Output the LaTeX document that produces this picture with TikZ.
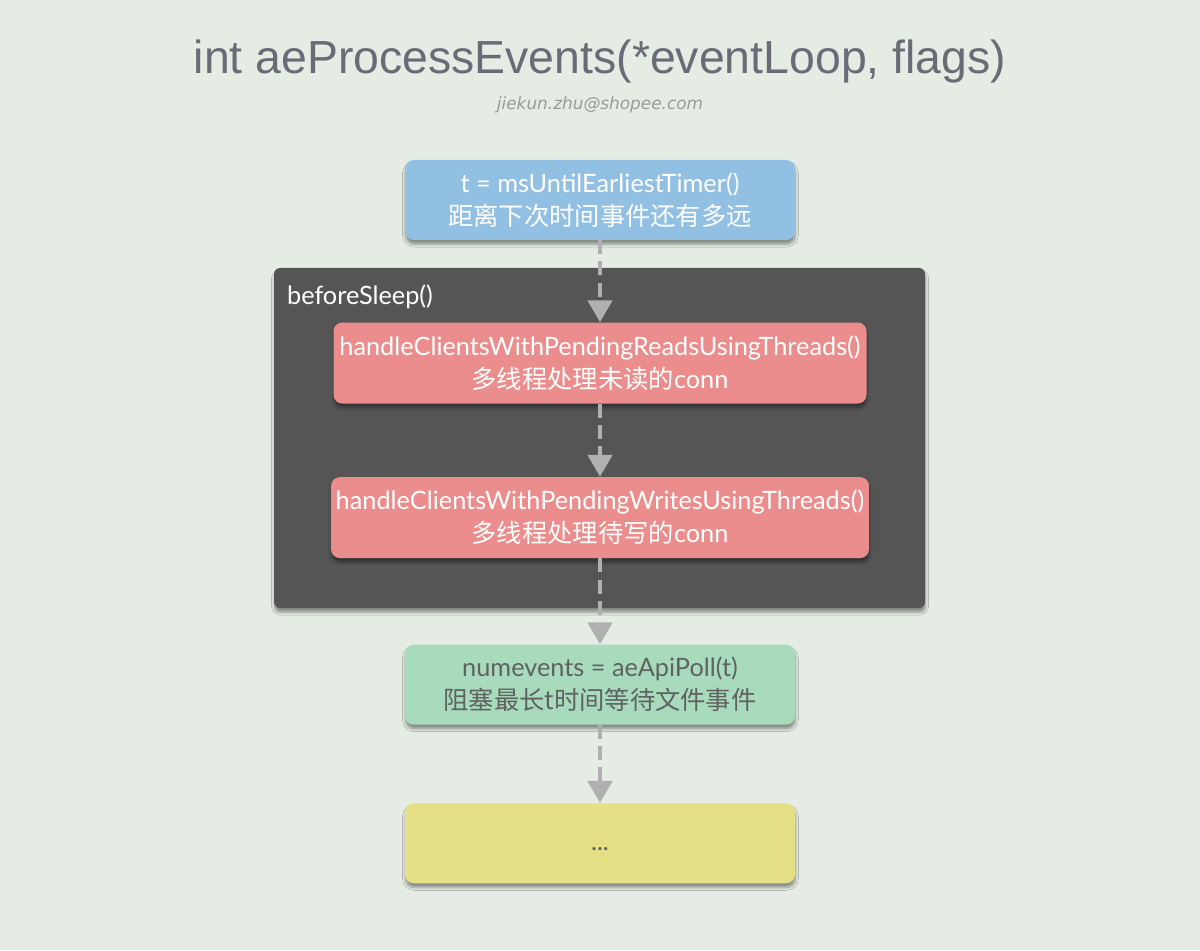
\documentclass[tikz,border=0pt]{standalone}
\usepackage{fontspec}
\setmainfont{Lato}
\newfontfamily\cjk{Noto Sans CJK SC}
\newfontfamily\headfont{Liberation Sans}
\newfontfamily\mailfont{DejaVu Sans}
\usepackage{tikz}
\usetikzlibrary{positioning, arrows.meta, shadows.blur}

\definecolor{bgcol}{RGB}{229,236,228}
\definecolor{headcol}{RGB}{107,107,120}
\definecolor{mailcol}{RGB}{150,156,152}
\definecolor{timercol}{RGB}{146,192,226}
\definecolor{sleepcol}{RGB}{85,85,85}
\definecolor{threadcol}{RGB}{235,141,141}
\definecolor{pollcol}{RGB}{168,219,188}
\definecolor{restcol}{RGB}{229,224,133}
\definecolor{arrowcol}{RGB}{176,176,176}
\definecolor{darktext}{RGB}{95,98,96}

\begin{document}
\begin{tikzpicture}[>={Triangle[width=0.6cm,length=0.55cm]},
    shade/.style={blur shadow={shadow xshift=0.3pt, shadow yshift=-3pt, shadow blur radius=2pt, shadow blur steps=5, shadow opacity=40}},
    box/.style={rectangle, rounded corners=0.22cm, minimum width=9.75cm, minimum height=2cm,
        align=center, text=white, font=\fontsize{18pt}{23.5pt}\selectfont, shade},
    wide/.style={box, minimum width=13.325cm, minimum height=2.025cm},
    flow/.style={->, draw=arrowcol, line width=3.5pt, dash pattern=on 0.35cm off 0.18cm}]

        % page
        \fill[bgcol] (0,0) rectangle (30,23.75);
        \useasboundingbox (0,0) rectangle (30,23.75);

        %Header
        \node   (head) at (15,22.2) [text=headcol, font=\headfont\fontsize{33pt}{35pt}\selectfont] {int aeProcessEvents(*eventLoop, flags)};
        \node   (mail) at (15,21.125) [text=mailcol, font=\mailfont\itshape\fontsize{12pt}{14pt}\selectfont] {jiekun.zhu@shopee.com};

        %Nodes
        \node   (sleep) at (14.99,12.8) [rectangle, fill=sleepcol, rounded corners=0.15cm, minimum width=16.275cm, minimum height=8.5cm, shade] {};
        \node   (sleepname) [below right=0.425cm and 0.325cm of sleep.north west, anchor=north west, inner sep=0pt,
                text=white, font=\fontsize{18pt}{23.5pt}\selectfont] {beforeSleep()};
        \node   (timer) at (15,18.75) [box, fill=timercol] {t = msUntilEarliestTimer()\\{\cjk 距离下次时间事件还有多远}};
        \node   (reads) [wide, fill=threadcol, below=2.05cm of timer] {handleClientsWithPendingReadsUsingThreads()\\{\cjk 多线程处理未读的}conn};
        \node   (writes) [wide, fill=threadcol, below=1.825cm of reads] {handleClientsWithPendingWritesUsingThreads()\\{\cjk 多线程处理待写的}conn};
        \node   (poll) [box, fill=pollcol, text=darktext, below=2.15cm of writes] {numevents = aeApiPoll(t)\\{\cjk 阻塞最长t时间等待文件事件}};
        \node   (rest) [box, fill=restcol, text=darktext, text height=0.35cm, text depth=0pt, below=1.95cm of poll] {...};

        %Lines
        \draw[flow] (timer.south) -- (reads.north);
        \draw[flow] (reads.south) -- (writes.north);
        \draw[flow] (writes.south) -- (poll.north);
        \draw[flow] (poll.south) -- (rest.north);

\end{tikzpicture}
\end{document}
